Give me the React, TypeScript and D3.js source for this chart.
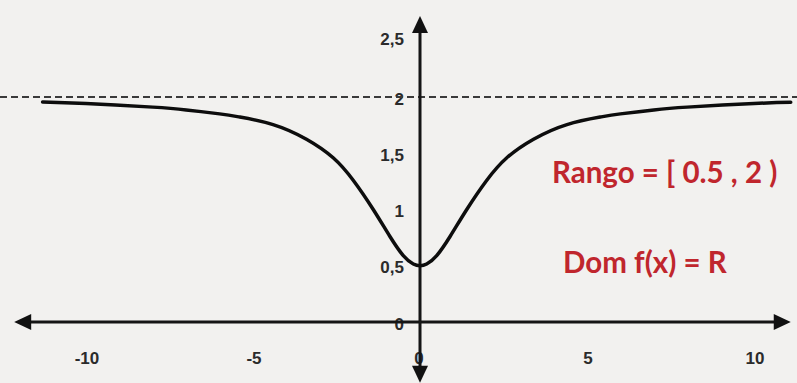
import React from "react";
import * as d3 from "d3";

// Curve samples f(x) for x <= 0; the function is even, so the right half mirrors it.
const curveX = [-11.3, -10, -8, -7, -6, -5.4, -4.4, -3.4, -2.6, -2, -1.4, -0.9, -0.5, -0.2, 0];
const curveY = [1.955, 1.942, 1.91, 1.885, 1.85, 1.822, 1.755, 1.625, 1.46, 1.26, 1.0, 0.76, 0.59, 0.515, 0.5];
const rightEndX = 11.1;
const rightEndY = 1.953;

const xTicks = [-10, -5, 0, 5, 10];
const xTickLabels = ["-10", "-5", "0", "5", "10"];
const yTicks = [0, 0.5, 1, 1.5, 2, 2.5];
const yTickLabels = ["0", "0,5", "1", "1,5", "2", "2,5"];
const asymptote = 2;
const rangeLabel = "Rango = [ 0.5 , 2 )";
const domainLabel = "Dom f(x) = R";

const W = 797;
const H = 383;

export default function App() {
  const x = d3.scaleLinear().domain([0, 10]).range([420, 754]);
  const y = d3.scaleLinear().domain([0, 2]).range([322, 97]);

  const pts: [number, number][] = [];
  curveX.forEach((v, i) => pts.push([v, curveY[i]]));
  for (let i = curveX.length - 2; i >= 0; i--) {
    if (-curveX[i] <= rightEndX) pts.push([-curveX[i], curveY[i]]);
  }
  pts.push([rightEndX, rightEndY]);

  const line = d3
    .line<[number, number]>()
    .x((d) => x(d[0]))
    .y((d) => y(d[1]))
    .curve(d3.curveNatural);

  const x0 = x(0);
  const y0 = y(0);
  const axisLeft = x(-12.15);
  const axisRight = x(11.1);
  const axisTop = y(2.72);
  const axisBottom = y(-0.54);
  const ah = 17; // arrowhead length
  const aw = 8; // arrowhead half width

  const tickFont = "'Liberation Sans', Arial, sans-serif";
  const labelFont = "Lato, 'Open Sans', sans-serif";

  return (
    <svg
      width={W}
      height={H}
      viewBox={`0 0 ${W} ${H}`}
      style={{ position: "absolute", left: 0, top: 0, display: "block" }}
    >
      <rect x={0} y={0} width={W} height={H} fill="#f2f1ef" />

      {/* y tick labels (drawn beneath the axis lines) */}
      {yTicks.map((t, i) => (
        <text
          key={`yt${i}`}
          x={x0 - 16}
          y={y(t) + (t === 2.5 ? 4 : 7.5)}
          textAnchor="end"
          fontFamily={tickFont}
          fontWeight="bold"
          fontSize={17}
          fill="#2b2b2b"
        >
          {yTickLabels[i]}
        </text>
      ))}

      {/* x tick labels */}
      {xTicks.map((t, i) => (
        <text
          key={`xt${i}`}
          x={x(t) + (t === 0 ? -1 : 1)}
          y={364}
          textAnchor="middle"
          fontFamily={tickFont}
          fontWeight="bold"
          fontSize={17}
          fill="#2b2b2b"
        >
          {xTickLabels[i]}
        </text>
      ))}

      {/* horizontal asymptote */}
      <line
        x1={0}
        x2={W}
        y1={y(asymptote)}
        y2={y(asymptote)}
        stroke="#3a3a3a"
        strokeWidth={2}
        strokeDasharray="7 4"
      />

      {/* x axis */}
      <line x1={axisLeft + ah - 2} x2={axisRight - ah + 2} y1={y0} y2={y0} stroke="#151515" strokeWidth={3} />
      <path d={`M${axisLeft},${y0} L${axisLeft + ah},${y0 - aw} L${axisLeft + ah},${y0 + aw} Z`} fill="#111" />
      <path d={`M${axisRight},${y0} L${axisRight - ah},${y0 - aw} L${axisRight - ah},${y0 + aw} Z`} fill="#111" />

      {/* y axis */}
      <line x1={x0} x2={x0} y1={axisTop + ah - 2} y2={axisBottom - ah + 2} stroke="#151515" strokeWidth={3} />
      <path d={`M${x0},${axisTop} L${x0 - aw},${axisTop + ah} L${x0 + aw},${axisTop + ah} Z`} fill="#111" />
      <path d={`M${x0},${axisBottom} L${x0 - aw},${axisBottom - ah} L${x0 + aw},${axisBottom - ah} Z`} fill="#111" />

      {/* function curve */}
      <path d={line(pts) || ""} fill="none" stroke="#0d0d0d" strokeWidth={3.5} strokeLinecap="round" />

      {/* annotations */}
      <text x={552} y={183} fontFamily={labelFont} fontWeight="bold" fontSize={29.5} fill="#c0262d">
        {rangeLabel}
      </text>
      <text x={563} y={273} fontFamily={labelFont} fontWeight="bold" fontSize={29.5} fill="#c0262d">
        {domainLabel}
      </text>
    </svg>
  );
}
